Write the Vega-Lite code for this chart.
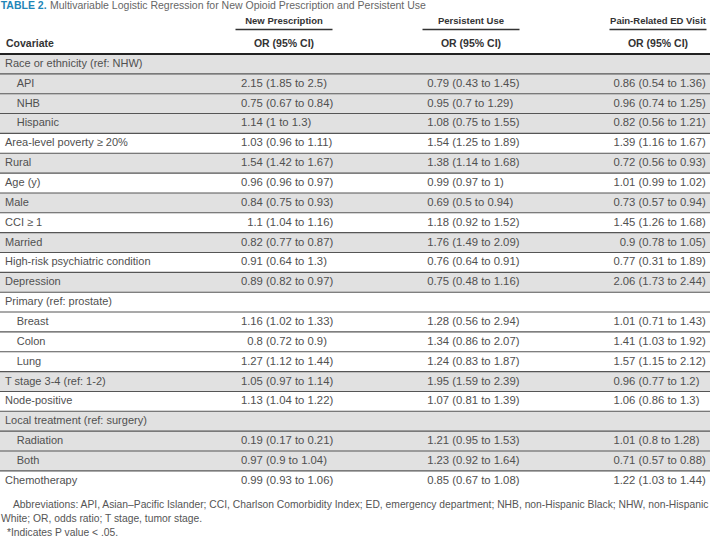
{
  "$schema": "https://vega.github.io/schema/vega-lite/v6.json",
  "width": 710,
  "height": 541,
  "autosize": "none",
  "padding": 0,
  "background": "white",
  "config": {"view": {"stroke": null}, "axis": {"disable": true}},
  "datasets": {
    "title": [
      {"part": "tag", "line": "title", "text": "TABLE 2."},
      {"part": "caption", "line": "title", "text": "Multivariable Logistic Regression for New Opioid Prescription and Persistent Use"}
    ],
    "header": [
      {"col": "New Prescription", "line": "h1", "text": "New Prescription"},
      {"col": "Persistent Use", "line": "h1", "text": "Persistent Use"},
      {"col": "Pain-Related ED Visit", "line": "h1", "text": "Pain-Related ED Visit"},
      {"col": "New Prescription", "line": "h2", "text": "OR (95% CI)"},
      {"col": "Persistent Use", "line": "h2", "text": "OR (95% CI)"},
      {"col": "Pain-Related ED Visit", "line": "h2", "text": "OR (95% CI)"}
    ],
    "stub": [{"col": "Covariate", "line": "h2", "text": "Covariate"}],
    "rows": [
      {"label": "Race or ethnicity (ref: NHW)", "variable": "Race or ethnicity", "kind": "variable"},
      {"label": "API", "variable": "Race or ethnicity", "kind": "category"},
      {"label": "NHB", "variable": "Race or ethnicity", "kind": "category"},
      {"label": "Hispanic", "variable": "Race or ethnicity", "kind": "category"},
      {"label": "Area-level poverty ≥ 20%", "variable": "Area-level poverty", "kind": "variable"},
      {"label": "Rural", "variable": "Rural", "kind": "variable"},
      {"label": "Age (y)", "variable": "Age", "kind": "variable"},
      {"label": "Male", "variable": "Male", "kind": "variable"},
      {"label": "CCI ≥ 1", "variable": "CCI", "kind": "variable"},
      {"label": "Married", "variable": "Married", "kind": "variable"},
      {"label": "High-risk psychiatric condition", "variable": "High-risk psychiatric condition", "kind": "variable"},
      {"label": "Depression", "variable": "Depression", "kind": "variable"},
      {"label": "Primary (ref: prostate)", "variable": "Primary", "kind": "variable"},
      {"label": "Breast", "variable": "Primary", "kind": "category"},
      {"label": "Colon", "variable": "Primary", "kind": "category"},
      {"label": "Lung", "variable": "Primary", "kind": "category"},
      {"label": "T stage 3-4 (ref: 1-2)", "variable": "T stage", "kind": "variable"},
      {"label": "Node-positive", "variable": "Node-positive", "kind": "variable"},
      {"label": "Local treatment (ref: surgery)", "variable": "Local treatment", "kind": "variable"},
      {"label": "Radiation", "variable": "Local treatment", "kind": "category"},
      {"label": "Both", "variable": "Local treatment", "kind": "category"},
      {"label": "Chemotherapy", "variable": "Chemotherapy", "kind": "variable"}
    ],
    "values": [
      {"label": "API", "outcome": "New Prescription", "or": 2.15, "lo": 1.85, "hi": 2.5},
      {"label": "API", "outcome": "Persistent Use", "or": 0.79, "lo": 0.43, "hi": 1.45},
      {"label": "API", "outcome": "Pain-Related ED Visit", "or": 0.86, "lo": 0.54, "hi": 1.36},
      {"label": "NHB", "outcome": "New Prescription", "or": 0.75, "lo": 0.67, "hi": 0.84},
      {"label": "NHB", "outcome": "Persistent Use", "or": 0.95, "lo": 0.7, "hi": 1.29},
      {"label": "NHB", "outcome": "Pain-Related ED Visit", "or": 0.96, "lo": 0.74, "hi": 1.25},
      {"label": "Hispanic", "outcome": "New Prescription", "or": 1.14, "lo": 1, "hi": 1.3},
      {"label": "Hispanic", "outcome": "Persistent Use", "or": 1.08, "lo": 0.75, "hi": 1.55},
      {"label": "Hispanic", "outcome": "Pain-Related ED Visit", "or": 0.82, "lo": 0.56, "hi": 1.21},
      {"label": "Area-level poverty ≥ 20%", "outcome": "New Prescription", "or": 1.03, "lo": 0.96, "hi": 1.11},
      {"label": "Area-level poverty ≥ 20%", "outcome": "Persistent Use", "or": 1.54, "lo": 1.25, "hi": 1.89},
      {"label": "Area-level poverty ≥ 20%", "outcome": "Pain-Related ED Visit", "or": 1.39, "lo": 1.16, "hi": 1.67},
      {"label": "Rural", "outcome": "New Prescription", "or": 1.54, "lo": 1.42, "hi": 1.67},
      {"label": "Rural", "outcome": "Persistent Use", "or": 1.38, "lo": 1.14, "hi": 1.68},
      {"label": "Rural", "outcome": "Pain-Related ED Visit", "or": 0.72, "lo": 0.56, "hi": 0.93},
      {"label": "Age (y)", "outcome": "New Prescription", "or": 0.96, "lo": 0.96, "hi": 0.97},
      {"label": "Age (y)", "outcome": "Persistent Use", "or": 0.99, "lo": 0.97, "hi": 1},
      {"label": "Age (y)", "outcome": "Pain-Related ED Visit", "or": 1.01, "lo": 0.99, "hi": 1.02},
      {"label": "Male", "outcome": "New Prescription", "or": 0.84, "lo": 0.75, "hi": 0.93},
      {"label": "Male", "outcome": "Persistent Use", "or": 0.69, "lo": 0.5, "hi": 0.94},
      {"label": "Male", "outcome": "Pain-Related ED Visit", "or": 0.73, "lo": 0.57, "hi": 0.94},
      {"label": "CCI ≥ 1", "outcome": "New Prescription", "or": 1.1, "lo": 1.04, "hi": 1.16},
      {"label": "CCI ≥ 1", "outcome": "Persistent Use", "or": 1.18, "lo": 0.92, "hi": 1.52},
      {"label": "CCI ≥ 1", "outcome": "Pain-Related ED Visit", "or": 1.45, "lo": 1.26, "hi": 1.68},
      {"label": "Married", "outcome": "New Prescription", "or": 0.82, "lo": 0.77, "hi": 0.87},
      {"label": "Married", "outcome": "Persistent Use", "or": 1.76, "lo": 1.49, "hi": 2.09},
      {"label": "Married", "outcome": "Pain-Related ED Visit", "or": 0.9, "lo": 0.78, "hi": 1.05},
      {"label": "High-risk psychiatric condition", "outcome": "New Prescription", "or": 0.91, "lo": 0.64, "hi": 1.3},
      {"label": "High-risk psychiatric condition", "outcome": "Persistent Use", "or": 0.76, "lo": 0.64, "hi": 0.91},
      {"label": "High-risk psychiatric condition", "outcome": "Pain-Related ED Visit", "or": 0.77, "lo": 0.31, "hi": 1.89},
      {"label": "Depression", "outcome": "New Prescription", "or": 0.89, "lo": 0.82, "hi": 0.97},
      {"label": "Depression", "outcome": "Persistent Use", "or": 0.75, "lo": 0.48, "hi": 1.16},
      {"label": "Depression", "outcome": "Pain-Related ED Visit", "or": 2.06, "lo": 1.73, "hi": 2.44},
      {"label": "Breast", "outcome": "New Prescription", "or": 1.16, "lo": 1.02, "hi": 1.33},
      {"label": "Breast", "outcome": "Persistent Use", "or": 1.28, "lo": 0.56, "hi": 2.94},
      {"label": "Breast", "outcome": "Pain-Related ED Visit", "or": 1.01, "lo": 0.71, "hi": 1.43},
      {"label": "Colon", "outcome": "New Prescription", "or": 0.8, "lo": 0.72, "hi": 0.9},
      {"label": "Colon", "outcome": "Persistent Use", "or": 1.34, "lo": 0.86, "hi": 2.07},
      {"label": "Colon", "outcome": "Pain-Related ED Visit", "or": 1.41, "lo": 1.03, "hi": 1.92},
      {"label": "Lung", "outcome": "New Prescription", "or": 1.27, "lo": 1.12, "hi": 1.44},
      {"label": "Lung", "outcome": "Persistent Use", "or": 1.24, "lo": 0.83, "hi": 1.87},
      {"label": "Lung", "outcome": "Pain-Related ED Visit", "or": 1.57, "lo": 1.15, "hi": 2.12},
      {"label": "T stage 3-4 (ref: 1-2)", "outcome": "New Prescription", "or": 1.05, "lo": 0.97, "hi": 1.14},
      {"label": "T stage 3-4 (ref: 1-2)", "outcome": "Persistent Use", "or": 1.95, "lo": 1.59, "hi": 2.39},
      {"label": "T stage 3-4 (ref: 1-2)", "outcome": "Pain-Related ED Visit", "or": 0.96, "lo": 0.77, "hi": 1.2},
      {"label": "Node-positive", "outcome": "New Prescription", "or": 1.13, "lo": 1.04, "hi": 1.22},
      {"label": "Node-positive", "outcome": "Persistent Use", "or": 1.07, "lo": 0.81, "hi": 1.39},
      {"label": "Node-positive", "outcome": "Pain-Related ED Visit", "or": 1.06, "lo": 0.86, "hi": 1.3},
      {"label": "Radiation", "outcome": "New Prescription", "or": 0.19, "lo": 0.17, "hi": 0.21},
      {"label": "Radiation", "outcome": "Persistent Use", "or": 1.21, "lo": 0.95, "hi": 1.53},
      {"label": "Radiation", "outcome": "Pain-Related ED Visit", "or": 1.01, "lo": 0.8, "hi": 1.28},
      {"label": "Both", "outcome": "New Prescription", "or": 0.97, "lo": 0.9, "hi": 1.04},
      {"label": "Both", "outcome": "Persistent Use", "or": 1.23, "lo": 0.92, "hi": 1.64},
      {"label": "Both", "outcome": "Pain-Related ED Visit", "or": 0.71, "lo": 0.57, "hi": 0.88},
      {"label": "Chemotherapy", "outcome": "New Prescription", "or": 0.99, "lo": 0.93, "hi": 1.06},
      {"label": "Chemotherapy", "outcome": "Persistent Use", "or": 0.85, "lo": 0.67, "hi": 1.08},
      {"label": "Chemotherapy", "outcome": "Pain-Related ED Visit", "or": 1.22, "lo": 1.03, "hi": 1.44}
    ],
    "notes": [
      {"line": "f1", "text": "Abbreviations: API, Asian–Pacific Islander; CCI, Charlson Comorbidity Index; ED, emergency department; NHB, non-Hispanic Black; NHW, non-Hispanic"},
      {"line": "f2", "text": "White; OR, odds ratio; T stage, tumor stage."},
      {"line": "f3", "text": "*Indicates P value < .05."}
    ]
  },
  "layer": [
    {
      "data": {"name": "title"},
      "encoding": {
        "x": {"field": "part", "type": "nominal", "scale": {"type": "point", "domain": ["tag", "caption"], "range": [0.7, 50], "padding": 0}},
        "y": {"field": "line", "type": "nominal", "scale": {"type": "point", "domain": ["title"], "range": [0, 12], "padding": 0}},
        "text": {"field": "text", "type": "nominal"}
      },
      "layer": [
        {"transform": [{"filter": "datum.part === 'tag'"}], "mark": {"type": "text", "align": "left", "baseline": "middle", "font": "Liberation Sans", "fontWeight": "bold", "fontSize": 10.5, "color": "#1f86b8"}},
        {"transform": [{"filter": "datum.part === 'caption'"}], "mark": {"type": "text", "align": "left", "baseline": "middle", "font": "Liberation Sans", "fontSize": 10.5, "color": "#666666"}}
      ]
    },
    {
      "data": {"name": "header"},
      "encoding": {
        "x": {"field": "col", "type": "nominal", "scale": {"type": "point", "domain": ["New Prescription", "Persistent Use", "Pain-Related ED Visit"], "range": [284, 658], "padding": 0}},
        "y": {"field": "line", "type": "nominal", "scale": {"type": "point", "domain": ["h1", "h2"], "range": [21, 44], "padding": 0}},
        "text": {"field": "text", "type": "nominal"}
      },
      "layer": [
        {"transform": [{"filter": "datum.line === 'h1'"}], "mark": {"type": "text", "align": "center", "baseline": "middle", "font": "Liberation Sans", "fontWeight": "bold", "fontSize": 9.5, "color": "#333333"}},
        {"transform": [{"filter": "datum.line === 'h2'"}], "mark": {"type": "text", "align": "center", "baseline": "middle", "font": "Liberation Sans", "fontWeight": "bold", "fontSize": 10.5, "color": "#333333"}},
        {"transform": [{"filter": "datum.line === 'h1'"}], "mark": {"type": "tick", "orient": "horizontal", "size": 97, "thickness": 1.3, "yOffset": 8.5, "color": "#333333", "opacity": 1}}
      ]
    },
    {
      "data": {"name": "stub"},
      "mark": {"type": "text", "align": "left", "baseline": "middle", "font": "Liberation Sans", "fontWeight": "bold", "fontSize": 10.5, "color": "#333333"},
      "encoding": {
        "x": {"field": "col", "type": "nominal", "scale": {"type": "point", "domain": ["Covariate"], "range": [0, 12], "padding": 0}},
        "y": {"field": "line", "type": "nominal", "scale": {"type": "point", "domain": ["h2"], "range": [38, 50], "padding": 0}},
        "text": {"field": "text", "type": "nominal"}
      }
    },
    {
      "encoding": {
        "y": {"field": "label", "type": "nominal", "scale": {"type": "band", "domain": ["Race or ethnicity (ref: NHW)", "API", "NHB", "Hispanic", "Area-level poverty ≥ 20%", "Rural", "Age (y)", "Male", "CCI ≥ 1", "Married", "High-risk psychiatric condition", "Depression", "Primary (ref: prostate)", "Breast", "Colon", "Lung", "T stage 3-4 (ref: 1-2)", "Node-positive", "Local treatment (ref: surgery)", "Radiation", "Both", "Chemotherapy"], "range": [54, 490.7], "paddingInner": 0, "paddingOuter": 0}}
      },
      "layer": [
        {
          "data": {"name": "rows"},
          "mark": {"type": "rect"},
          "encoding": {
            "color": {"field": "variable", "type": "nominal", "legend": null, "scale": {"domain": ["Race or ethnicity", "Area-level poverty", "Rural", "Age", "Male", "CCI", "Married", "High-risk psychiatric condition", "Depression", "Primary", "T stage", "Node-positive", "Local treatment", "Chemotherapy"], "range": ["#e1e1e1", "#ffffff", "#e1e1e1", "#ffffff", "#e1e1e1", "#ffffff", "#e1e1e1", "#ffffff", "#e1e1e1", "#ffffff", "#e1e1e1", "#ffffff", "#e1e1e1", "#ffffff"]}}
          }
        },
        {
          "data": {"name": "rows"},
          "mark": {"type": "rule", "color": "#555555", "strokeWidth": 1.1},
          "encoding": {
            "y": {"field": "label", "type": "nominal", "bandPosition": 0, "scale": {"type": "band", "domain": ["Race or ethnicity (ref: NHW)", "API", "NHB", "Hispanic", "Area-level poverty ≥ 20%", "Rural", "Age (y)", "Male", "CCI ≥ 1", "Married", "High-risk psychiatric condition", "Depression", "Primary (ref: prostate)", "Breast", "Colon", "Lung", "T stage 3-4 (ref: 1-2)", "Node-positive", "Local treatment (ref: surgery)", "Radiation", "Both", "Chemotherapy"], "range": [54, 490.7], "paddingInner": 0, "paddingOuter": 0}}
          }
        },
        {
          "data": {"name": "rows"},
          "transform": [{"filter": "datum.label === 'Race or ethnicity (ref: NHW)'"}],
          "mark": {"type": "rule", "color": "#222222", "strokeWidth": 2},
          "encoding": {
            "y": {"field": "label", "type": "nominal", "bandPosition": 0, "scale": {"type": "band", "domain": ["Race or ethnicity (ref: NHW)", "API", "NHB", "Hispanic", "Area-level poverty ≥ 20%", "Rural", "Age (y)", "Male", "CCI ≥ 1", "Married", "High-risk psychiatric condition", "Depression", "Primary (ref: prostate)", "Breast", "Colon", "Lung", "T stage 3-4 (ref: 1-2)", "Node-positive", "Local treatment (ref: surgery)", "Radiation", "Both", "Chemotherapy"], "range": [54, 490.7], "paddingInner": 0, "paddingOuter": 0}}
          }
        },
        {
          "data": {"name": "rows"},
          "mark": {"type": "text", "align": "left", "baseline": "middle", "font": "Liberation Sans", "fontSize": 11, "color": "#505050"},
          "encoding": {
            "x": {"field": "kind", "type": "nominal", "scale": {"type": "point", "domain": ["variable", "category"], "range": [5, 16.7], "padding": 0}},
            "text": {"field": "label", "type": "nominal"}
          }
        },
        {
          "data": {"name": "values"},
          "transform": [{"calculate": "'(' + datum.lo + ' to ' + datum.hi + ')'", "as": "ci"}],
          "encoding": {
            "x": {"field": "outcome", "type": "nominal", "scale": {"type": "point", "domain": ["New Prescription", "Persistent Use", "Pain-Related ED Visit"], "range": [266, 638.5], "padding": 0}}
          },
          "layer": [
            {"mark": {"type": "text", "align": "right", "baseline": "middle", "dx": -3.1, "font": "Liberation Sans", "fontSize": 11.3, "color": "#505050"}, "encoding": {"text": {"field": "or", "type": "nominal"}}},
            {"mark": {"type": "text", "align": "left", "baseline": "middle", "font": "Liberation Sans", "fontSize": 11.3, "color": "#505050"}, "encoding": {"text": {"field": "ci", "type": "nominal"}}}
          ]
        }
      ],
      "resolve": {"scale": {"x": "independent"}}
    },
    {
      "data": {"name": "notes"},
      "mark": {"type": "text", "align": "left", "baseline": "middle", "font": "Liberation Sans", "fontSize": 10.3, "color": "#555555"},
      "encoding": {
        "x": {"field": "line", "type": "nominal", "scale": {"type": "point", "domain": ["f2", "f3", "f1"], "range": [1, 13], "padding": 0}},
        "y": {"field": "line", "type": "nominal", "scale": {"type": "point", "domain": ["f1", "f2", "f3"], "range": [505, 533], "padding": 0}},
        "text": {"field": "text", "type": "nominal"}
      }
    }
  ],
  "resolve": {"scale": {"x": "independent", "y": "independent"}}
}
